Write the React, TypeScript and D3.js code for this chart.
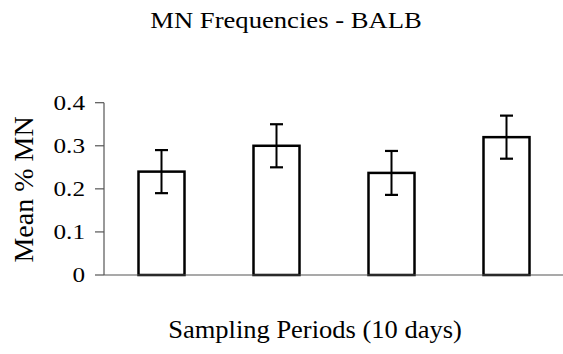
import React from 'react'
import * as d3 from 'd3'

const periods = ['1', '2', '3', '4']
const meanMN = [0.24, 0.3, 0.237, 0.32]
const errMN = [0.05, 0.05, 0.051, 0.05]
const yTicks = [0, 0.1, 0.2, 0.3, 0.4]

const width = 563
const height = 354

export default function App() {
  const x = d3
    .scaleBand<string>()
    .domain(periods)
    .range([104, 564])
    .paddingInner(0.6)
    .paddingOuter(0.3)

  const y = d3.scaleLinear().domain([0, 0.4]).range([275, 102.7])

  const font = { fontFamily: 'Liberation Serif' }
  const capW = 13

  return (
    <svg
      width={width}
      height={height}
      style={{ position: 'fixed', left: 0, top: 0, background: '#fff' }}
    >
      {/* the original scan is stretched sideways, so texts are widened a little */}
      <text transform="translate(286,28) scale(1.11,1)" fontSize={24} style={font} textAnchor="middle">
        MN Frequencies - BALB
      </text>

      {/* y axis */}
      <line x1={104} x2={104} y1={y(0.4)} y2={y(0)} stroke="#555" strokeWidth={1.2} />
      {yTicks.map(t => (
        <g key={t}>
          <line x1={95} x2={104} y1={y(t)} y2={y(t)} stroke="#555" strokeWidth={1.2} />
          <text
            transform={`translate(85,${y(t)}) scale(1.2,1)`}
            dy="0.34em"
            fontSize={21}
            style={font}
            textAnchor="end"
          >
            {t === 0 ? '0' : d3.format('.1f')(t)}
          </text>
        </g>
      ))}
      <text
        transform="translate(33,189.5) rotate(-90)"
        fontSize={28}
        style={font}
        textAnchor="middle"
      >
        Mean % MN
      </text>

      {/* bars */}
      {periods.map((p, i) => {
        const cx = (x(p) as number) + x.bandwidth() / 2
        const hi = y(meanMN[i] + errMN[i])
        const lo = y(meanMN[i] - errMN[i])
        return (
          <g key={p}>
            <rect
              x={x(p)}
              y={y(meanMN[i])}
              width={x.bandwidth()}
              height={y(0) - y(meanMN[i])}
              fill="#fff"
              stroke="#000"
              strokeWidth={2.5}
            />
            <line x1={cx} x2={cx} y1={hi} y2={lo} stroke="#000" strokeWidth={2} />
            <line x1={cx - capW / 2} x2={cx + capW / 2} y1={hi} y2={hi} stroke="#000" strokeWidth={2.2} />
            <line x1={cx - capW / 2} x2={cx + capW / 2} y1={lo} y2={lo} stroke="#000" strokeWidth={2.2} />
          </g>
        )
      })}

      {/* x axis */}
      <line x1={104} x2={563} y1={y(0)} y2={y(0)} stroke="#555" strokeWidth={1.2} />

      <text transform="translate(315,338) scale(1.06,1)" fontSize={25} style={font} textAnchor="middle">
        Sampling Periods (10 days)
      </text>
    </svg>
  )
}
